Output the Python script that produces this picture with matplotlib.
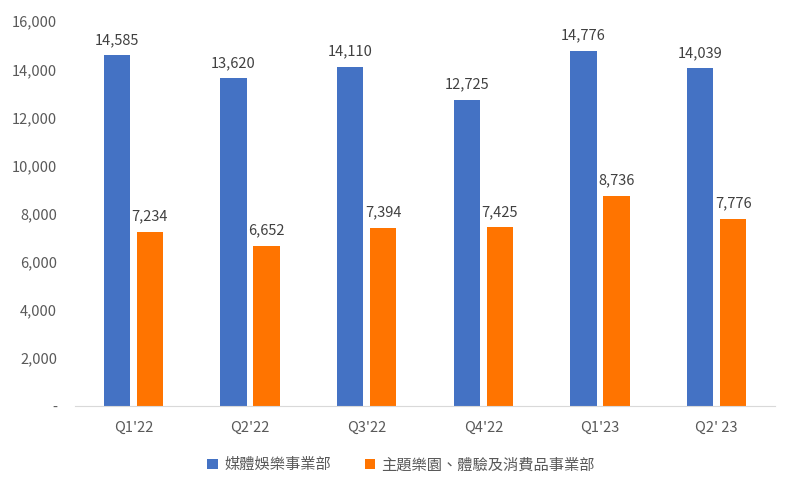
import numpy as np
import matplotlib
matplotlib.use("Agg")
import matplotlib.pyplot as plt
from matplotlib.ticker import FuncFormatter

plt.rcParams['font.family'] = ['Noto Sans CJK TC', 'DejaVu Sans']

quarters = ["Q1'22", "Q2'22", "Q3'22", "Q4'22", "Q1'23", "Q2' 23"]
media = [14585, 13620, 14110, 12725, 14776, 14039]
parks = [7234, 6652, 7394, 7425, 8736, 7776]
names = ["媒體娛樂事業部", "主題樂園、體驗及消費品事業部"]

blue = '#4472C4'
orange = '#FF7400'
grey = '#595959'

fig = plt.figure(figsize=(7.94, 4.78), dpi=100)
ax = fig.add_axes([0.0945, 0.1506, 0.8815, 0.805])

x = np.arange(len(quarters))
w = 0.225
off = 0.141
b1 = ax.bar(x - off, media, w, color=blue, label=names[0])
b2 = ax.bar(x + off, parks, w, color=orange, label=names[1])

for bars in (b1, b2):
    for r in bars:
        ax.text(r.get_x() + r.get_width() / 2, r.get_height() + 350,
                f"{int(r.get_height()):,}", ha='center', va='bottom',
                fontsize=10.5, color='#404040')

ax.set_xlim(-0.5, len(quarters) - 0.5)
ax.set_ylim(0, 16000)
ax.set_yticks(np.arange(0, 16001, 2000))
ax.yaxis.set_major_formatter(FuncFormatter(lambda v, p: '-' if v == 0 else f"{int(v):,}"))
ax.set_xticks(x)
ax.set_xticklabels(quarters)
ax.tick_params(axis='both', length=0, labelsize=10.5, colors=grey)
ax.tick_params(axis='x', pad=11)
ax.tick_params(axis='y', pad=13)

for s in ['top', 'right', 'left']:
    ax.spines[s].set_visible(False)
ax.spines['bottom'].set_color('#D9D9D9')

ax.legend(loc='upper center', bbox_to_anchor=(0.466, -0.095), ncol=2, frameon=False,
          fontsize=11, handlelength=0.7, handleheight=0.7, handletextpad=0.4,
          columnspacing=2.2, labelcolor=grey)

fig.savefig('out.png', dpi=100)
